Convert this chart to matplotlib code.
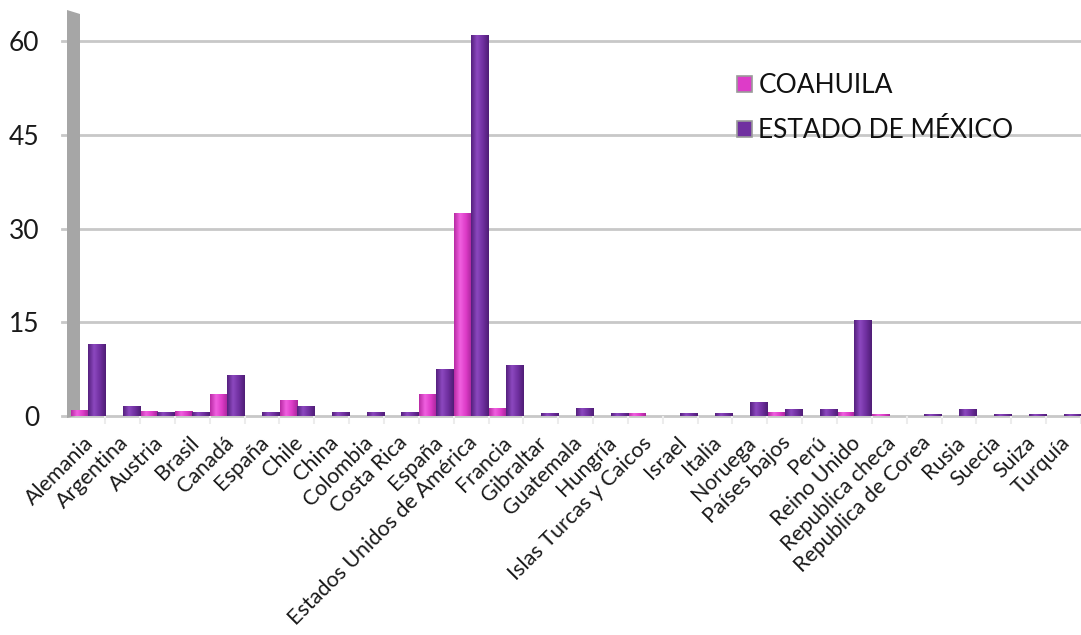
import matplotlib
matplotlib.use("Agg")
import matplotlib.pyplot as plt
import matplotlib.transforms as mtransforms
import numpy as np
from matplotlib.patches import Polygon
from matplotlib.colors import LinearSegmentedColormap

categories = ["Alemania", "Argentina", "Austria", "Brasil", "Canadá", "España", "Chile",
              "China", "Colombia", "Costa Rica", "España", "Estados Unidos de América",
              "Francia", "Gibraltar", "Guatemala", "Hungría", "Islas Turcas y Caicos",
              "Israel", "Italia", "Noruega", "Países bajos", "Perú", "Reino Unido",
              "Republica checa", "Republica de Corea", "Rusia", "Suecia", "Suiza", "Turquía"]

coahuila = [1, 0, 0.8, 0.8, 3.5, 0, 2.5, 0, 0, 0, 3.5, 32.5, 1.3, 0, 0, 0, 0.5,
            0, 0, 0, 0.6, 0, 0.6, 0.4, 0, 0, 0, 0, 0]
edomex = [11.5, 1.6, 0.7, 0.7, 6.5, 0.7, 1.6, 0.6, 0.6, 0.6, 7.5, 61, 8.2, 0.5, 1.3,
          0.5, 0, 0.5, 0.5, 2.2, 1.2, 1.2, 15.3, 0, 0.4, 1.2, 0.4, 0.4, 0.4]

yticks = [0, 15, 30, 45, 60]

W, H = 1081, 635
plt.rcParams['font.family'] = ['Lato', 'DejaVu Sans']
fig = plt.figure(figsize=(W / 100, H / 100), dpi=100)

ax = fig.add_axes([70 / W, (H - 416) / H, 1 - 70 / W, (416 - 10) / H])
ax.patch.set_alpha(0)

x = np.arange(len(categories))
bw = 0.49
pink = "#DD3CC8"
purple = "#7030A0"

b1 = ax.bar(x - bw / 2, coahuila, width=bw, color=pink, zorder=3, label="COAHUILA", linewidth=0)
b2 = ax.bar(x + bw / 2, edomex, width=bw, color=purple, zorder=3, label="ESTADO DE MÉXICO", linewidth=0)

cmap_p = LinearSegmentedColormap.from_list("p", ["#b82aa4", "#f060e0", "#dd3cc8", "#a8259a"])
cmap_u = LinearSegmentedColormap.from_list("u", ["#55207e", "#8c48bf", "#7030a0", "#4f1d76"])
grad = np.linspace(0, 1, 64).reshape(1, -1)
for bars, cm in ((b1, cmap_p), (b2, cmap_u)):
    for r in bars:
        h = r.get_height()
        if h <= 0:
            continue
        x0 = r.get_x()
        w = r.get_width()
        im = ax.imshow(grad, cmap=cm, aspect="auto", extent=(x0, x0 + w, 0, h),
                       zorder=3.5, interpolation="bilinear")
        im.set_clip_path(r)

ax.set_xlim(-0.51, 28.4)
ax.set_ylim(0, 65)
ax.set_aspect("auto")
ax.set_yticks(yticks)
ax.set_yticklabels([str(v) for v in yticks], fontsize=19, color="#1a1a1a")
ax.set_xticks(x)
ax.set_xticklabels(categories, rotation=45, ha="right", rotation_mode="anchor",
                   fontsize=15.5, color="#1a1a1a")
ax.set_xticks(x + 0.5, minor=True)
ax.tick_params(axis="x", which="major", length=0, pad=12)
ax.tick_params(axis="x", which="minor", length=6, width=1.5, color="#ececec")
ax.tick_params(axis="y", length=0, pad=22)
off = mtransforms.ScaledTranslation(-4 / 100, 0, fig.dpi_scale_trans)
for lbl in ax.get_xticklabels():
    lbl.set_transform(lbl.get_transform() + off)

for v in yticks:
    ax.axhline(v, color="#c8c8c8", lw=2, zorder=1, xmin=-0.008, clip_on=False)

for s in ax.spines.values():
    s.set_visible(False)

# grey side wall
wall = Polygon([(67 / W, 1 - 10 / H), (80 / W, 1 - 14 / H), (80 / W, 1 - 415 / H), (67 / W, 1 - 418 / H)],
               closed=True, transform=fig.transFigure, facecolor="#a6a6a6", edgecolor="none",
               zorder=2, clip_on=False)
ax.add_patch(wall)

leg = ax.legend(loc="upper left", bbox_to_anchor=(724 / W, 1 - 60 / H), bbox_transform=fig.transFigure,
                frameon=False, fontsize=19, handlelength=0.55, handleheight=0.55, handletextpad=0.25,
                labelspacing=0.75, borderpad=0)
for t in leg.get_texts():
    t.set_color("#111111")
for hnd in leg.legend_handles:
    hnd.set_edgecolor("#9a9a9a")
    hnd.set_linewidth(1.2)

fig.savefig("out.png", dpi=100, facecolor="white")
